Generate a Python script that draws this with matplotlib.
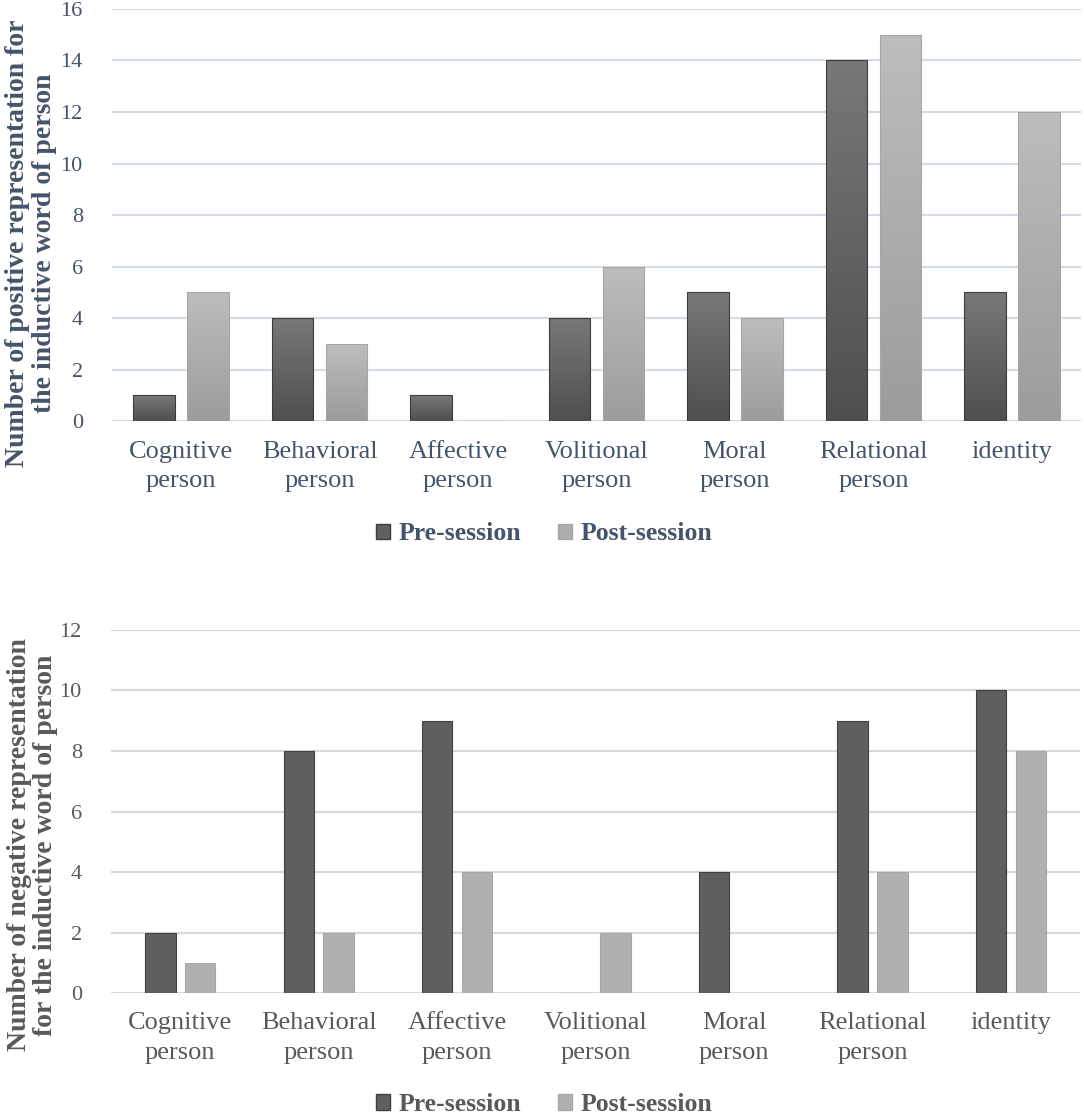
import numpy as np
import matplotlib
matplotlib.use("Agg")
import matplotlib.pyplot as plt
from matplotlib.colors import LinearSegmentedColormap
from matplotlib.patches import Patch

categories = ["Cognitive\nperson", "Behavioral\nperson", "Affective\nperson",
              "Volitional\nperson", "Moral\nperson", "Relational\nperson", "identity"]
series_names = ["Pre-session", "Post-session"]

pos_pre = [1, 4, 1, 4, 5, 14, 5]
pos_post = [5, 3, 0, 6, 4, 15, 12]
neg_pre = [2, 8, 9, 0, 4, 9, 10]
neg_post = [1, 2, 4, 2, 0, 4, 8]

pos_ticks = [0, 2, 4, 6, 8, 10, 12, 14, 16]
neg_ticks = [0, 2, 4, 6, 8, 10, 12]

plt.rcParams["font.family"] = ["Liberation Serif", "DejaVu Serif"]

fig = plt.figure(figsize=(10.84, 11.17), dpi=100)
ax1 = fig.add_axes([0.1033, 0.623, 0.894, 0.369])
ax2 = fig.add_axes([0.1024, 0.111, 0.894, 0.325])

x = np.arange(len(categories))


def style_axes(ax, ticks, text_color, grid_color):
    ax.set_xlim(-0.5, len(categories) - 0.5)
    ax.set_ylim(ticks[0], ticks[-1])
    ax.set_yticks(ticks)
    ax.set_xticks(x)
    ax.set_xticklabels(categories, fontsize=19, color=text_color, linespacing=1.45)
    for lbl in ax.get_yticklabels():
        lbl.set_fontsize(16)
        lbl.set_color(text_color)
    ax.tick_params(axis="both", length=0)
    ax.tick_params(axis="y", pad=21)
    ax.tick_params(axis="x", pad=14)
    ax.grid(True, axis="y", color=grid_color, linewidth=1.6)
    ax.set_axisbelow(True)
    for s in ax.spines.values():
        s.set_visible(False)


# top chart: gradient bars
style_axes(ax1, pos_ticks, "#44546A", "#D6DCE5")
dark_cmap = LinearSegmentedColormap.from_list("dark", ["#4f4f4f", "#787878"])
light_cmap = LinearSegmentedColormap.from_list("light", ["#9c9c9c", "#bdbdbd"])
grad = np.linspace(0, 1, 256).reshape(-1, 1)

bw1 = 0.30
off1 = 0.195
bars_pre = ax1.bar(x - off1, pos_pre, bw1, facecolor="none", edgecolor="#3c3c3c", linewidth=0.8, zorder=3)
bars_post = ax1.bar(x + off1, pos_post, bw1, facecolor="none", edgecolor="#a6a6a6", linewidth=0.8, zorder=3)
for bars, cmap in [(bars_pre, dark_cmap), (bars_post, light_cmap)]:
    for b in bars:
        h = b.get_height()
        if h <= 0:
            continue
        x0 = b.get_x()
        im = ax1.imshow(grad, extent=[x0, x0 + b.get_width(), 0, h], origin="lower",
                        aspect="auto", cmap=cmap, zorder=2)
        im.set_clip_path(b)
ax1.set_xlim(-0.5, len(categories) - 0.5)
ax1.set_ylim(0, 16)

fig.text(0.029, 0.782, "Number of positive representation for\nthe inductive word of person",
         rotation=90, ha="center", va="center", fontsize=20, fontweight="bold",
         color="#44546A", linespacing=1.1, multialignment="center")

fig.legend(handles=[Patch(facecolor="#606060", edgecolor="#3c3c3c", label=series_names[0]),
                    Patch(facecolor="#adadad", edgecolor="#a6a6a6", label=series_names[1])],
           loc="center", bbox_to_anchor=(0.502, 0.522), ncol=2, frameon=False,
           prop={"size": 18.5, "weight": "bold"}, labelcolor="#44546A",
           handlelength=0.55, handleheight=0.55, handletextpad=0.35, columnspacing=1.4)

# bottom chart: flat bars
style_axes(ax2, neg_ticks, "#595959", "#D9D9D9")
bw2 = 0.22
off2 = 0.144
ax2.bar(x - off2, neg_pre, bw2, color="#5f5f5f", edgecolor="#404040", linewidth=0.8, zorder=3)
ax2.bar(x + off2, neg_post, bw2, color="#b0b0b0", edgecolor="#a8a8a8", linewidth=0.8, zorder=3)

fig.text(0.030, 0.2435, "Number of negative representation\nfor the inductive word of person",
         rotation=90, ha="center", va="center", fontsize=20, fontweight="bold",
         color="#595959", linespacing=1.1, multialignment="center")

fig.legend(handles=[Patch(facecolor="#5f5f5f", edgecolor="#404040", label=series_names[0]),
                    Patch(facecolor="#b0b0b0", edgecolor="#a8a8a8", label=series_names[1])],
           loc="center", bbox_to_anchor=(0.502, 0.011), ncol=2, frameon=False,
           prop={"size": 18.5, "weight": "bold"}, labelcolor="#595959",
           handlelength=0.55, handleheight=0.55, handletextpad=0.35, columnspacing=1.4)

fig.savefig("out.png", dpi=100)
